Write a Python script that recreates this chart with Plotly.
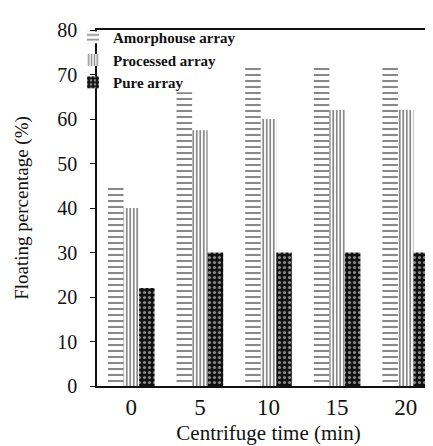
import plotly.graph_objects as go

categories = ["0", "5", "10", "15", "20"]
amorphous = [45, 66, 71.5, 71.5, 71.5]
processed = [40, 57.5, 60, 62, 62]
pure = [22, 30, 30, 30, 30]
y_ticks = [0, 10, 20, 30, 40, 50, 60, 70, 80]

font_family = "Liberation Serif, Times New Roman, serif"

fig = go.Figure()
fig.add_trace(go.Bar(
    x=categories, y=amorphous, name="Amorphouse array",
    marker=dict(color="white", line=dict(width=0),
                pattern=dict(shape="-", fgcolor="#111", bgcolor="white", size=6, solidity=0.35)),
))
fig.add_trace(go.Bar(
    x=categories, y=processed, name="Processed array",
    marker=dict(color="white", line=dict(width=0),
                pattern=dict(shape="|", fgcolor="#111", bgcolor="white", size=3.5, solidity=0.5)),
))
fig.add_trace(go.Bar(
    x=categories, y=pure, name="Pure array",
    marker=dict(color="#111", line=dict(width=0),
                pattern=dict(shape=".", fgcolor="white", bgcolor="#111", size=5, solidity=0.3)),
))

fig.update_layout(
    width=433, height=446,
    margin=dict(l=89, r=1, t=22, b=68, autoexpand=False),
    paper_bgcolor="white", plot_bgcolor="white",
    barmode="group", bargap=0.32, bargroupgap=0,
    font=dict(family=font_family, size=19, color="#111"),
    showlegend=True,
    legend=dict(x=-0.07, y=1.025, xanchor="left", yanchor="top",
                bgcolor="rgba(0,0,0,0)", borderwidth=0,
                font=dict(family=font_family, size=15, color="#111", weight="bold"),
                itemwidth=30, tracegroupgap=0),
    xaxis=dict(
        title=dict(text="Centrifuge time (min)", font=dict(size=21), standoff=6),
        showline=True, linecolor="#111", linewidth=1.5, mirror=True,
        ticks="", tickfont=dict(size=23), ticklabelstandoff=0,
        showgrid=False, automargin=True,
    ),
    yaxis=dict(
        title=dict(text="Floating percentage (%)", font=dict(size=19), standoff=24),
        range=[0, 80], tickvals=y_ticks,
        showline=True, linecolor="#111", linewidth=1.5, mirror=False,
        ticks="outside", ticklen=5, tickcolor="#111", tickwidth=1.2,
        tickfont=dict(size=20), ticklabelstandoff=9,
        showgrid=False, zeroline=False, automargin=True,
    ),
    shapes=[dict(type="line", xref="paper", yref="paper", x0=1, x1=1, y0=0, y1=1,
                 line=dict(color="#999", width=1))],
)

fig.write_html("out.html")
